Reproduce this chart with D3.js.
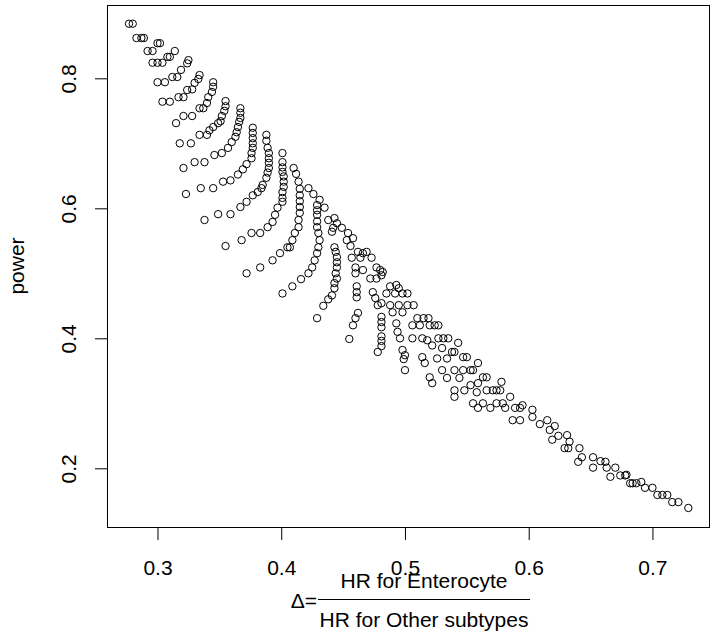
<!DOCTYPE html>
<html>
<head>
<meta charset="utf-8">
<script src="https://cdn.jsdelivr.net/npm/d3@7"></script>
<style>
  body { margin: 0; background: #fff; }
  svg { display: block; font-family: "Liberation Sans", Arial, sans-serif; }
</style>
</head>
<body>
<svg id="chart"></svg>
<script>
const width = 712, height = 639;

// [delta, power] pairs (upper left to lower right)
const arc00 = [[0.277,0.884],[0.280,0.884]];
const arc01 = [[0.283,0.862],[0.287,0.862],[0.289,0.862]];
const arc02 = [[0.292,0.842],[0.296,0.842],[0.300,0.854],[0.302,0.854]];
const arc03 = [[0.296,0.824],[0.300,0.824],[0.304,0.824],[0.308,0.833],[0.310,0.833],[0.314,0.842]];
const arc04 = [[0.300,0.794],[0.306,0.794],[0.312,0.802],[0.316,0.802],[0.319,0.813],[0.324,0.823],[0.325,0.828]];
const arc05 = [[0.304,0.764],[0.310,0.764],[0.317,0.771],[0.321,0.771],[0.324,0.782],[0.328,0.783],[0.330,0.793],[0.333,0.799],[0.334,0.805]];
const arc06 = [[0.315,0.731],[0.321,0.742],[0.328,0.742],[0.334,0.754],[0.337,0.754],[0.340,0.762],[0.341,0.771],[0.344,0.779],[0.345,0.787],[0.345,0.794]];
const arc07 = [[0.318,0.700],[0.327,0.700],[0.334,0.713],[0.340,0.713],[0.342,0.720],[0.345,0.725],[0.349,0.731],[0.351,0.734],[0.352,0.742],[0.354,0.750],[0.355,0.757],[0.355,0.765]];
const arc08 = [[0.321,0.662],[0.330,0.671],[0.338,0.671],[0.346,0.682],[0.352,0.685],[0.357,0.693],[0.360,0.702],[0.363,0.710],[0.364,0.717],[0.365,0.725],[0.366,0.733],[0.367,0.739],[0.367,0.747],[0.367,0.754]];
const arc09 = [[0.323,0.622],[0.335,0.631],[0.345,0.631],[0.353,0.641],[0.359,0.643],[0.365,0.652],[0.369,0.660],[0.372,0.668],[0.376,0.677],[0.376,0.685],[0.377,0.693],[0.377,0.700],[0.377,0.708],[0.377,0.716],[0.377,0.724]];
const arc10 = [[0.338,0.582],[0.349,0.591],[0.359,0.591],[0.367,0.602],[0.372,0.610],[0.377,0.620],[0.381,0.625],[0.384,0.631],[0.385,0.636],[0.388,0.647],[0.389,0.655],[0.390,0.662],[0.390,0.670],[0.390,0.677],[0.390,0.685],[0.389,0.693],[0.388,0.704],[0.388,0.713]];
const arc11 = [[0.355,0.542],[0.368,0.551],[0.376,0.562],[0.383,0.562],[0.389,0.571],[0.393,0.579],[0.395,0.590],[0.397,0.601],[0.401,0.610],[0.401,0.616],[0.401,0.625],[0.402,0.633],[0.402,0.641],[0.402,0.649],[0.401,0.656],[0.401,0.663],[0.401,0.671],[0.401,0.685]];
const arc12 = [[0.372,0.500],[0.383,0.509],[0.393,0.520],[0.399,0.531],[0.405,0.540],[0.407,0.540],[0.409,0.551],[0.411,0.562],[0.414,0.571],[0.414,0.582],[0.415,0.593],[0.415,0.602],[0.415,0.611],[0.415,0.620],[0.415,0.630],[0.414,0.641],[0.412,0.653],[0.410,0.662]];
const arc13 = [[0.401,0.469],[0.409,0.480],[0.416,0.491],[0.422,0.500],[0.425,0.509],[0.427,0.520],[0.429,0.531],[0.430,0.540],[0.431,0.551],[0.430,0.562],[0.429,0.571],[0.429,0.580],[0.429,0.590],[0.429,0.597],[0.429,0.605],[0.426,0.622],[0.422,0.631]];
const arc14 = [[0.429,0.431],[0.434,0.450],[0.438,0.460],[0.441,0.466],[0.443,0.477],[0.443,0.485],[0.445,0.492],[0.444,0.500],[0.445,0.509],[0.445,0.517],[0.445,0.525],[0.444,0.533],[0.443,0.540],[0.441,0.564],[0.442,0.570],[0.449,0.570],[0.445,0.577],[0.443,0.585],[0.438,0.582],[0.435,0.601],[0.431,0.613]];
const arc15 = [[0.455,0.399],[0.458,0.420],[0.460,0.431],[0.462,0.439],[0.461,0.463],[0.461,0.471],[0.461,0.480],[0.460,0.500],[0.460,0.509],[0.457,0.524],[0.456,0.542],[0.453,0.551],[0.454,0.562],[0.458,0.554]];
const edgeA = [[0.462,0.533],[0.466,0.531],[0.469,0.533],[0.473,0.524],[0.464,0.524],[0.466,0.505],[0.472,0.492],[0.477,0.509],[0.480,0.505],[0.481,0.497],[0.477,0.492],[0.482,0.502]];
const arc16 = [[0.478,0.379],[0.481,0.388],[0.481,0.396],[0.481,0.403],[0.481,0.417],[0.481,0.425],[0.481,0.433],[0.478,0.451],[0.476,0.462],[0.474,0.471]];
const edgeB = [[0.488,0.480],[0.493,0.482],[0.485,0.469],[0.492,0.469],[0.498,0.469],[0.502,0.469],[0.481,0.454],[0.488,0.451],[0.495,0.451],[0.502,0.451],[0.507,0.451],[0.490,0.440],[0.498,0.440],[0.495,0.477]];
const arc17 = [[0.500,0.351],[0.499,0.368],[0.500,0.374],[0.498,0.382],[0.496,0.400],[0.494,0.410],[0.493,0.423]];
const bandC = [[0.510,0.431],[0.515,0.431],[0.519,0.431],[0.506,0.420],[0.512,0.420],[0.520,0.420],[0.524,0.420],[0.527,0.420],
  [0.506,0.400],[0.514,0.400],[0.518,0.397],[0.522,0.389],[0.527,0.400],[0.531,0.400],[0.535,0.400],
  [0.514,0.371],[0.516,0.362],[0.520,0.340],[0.522,0.331],[0.530,0.385],[0.526,0.369],[0.534,0.369],[0.530,0.351],[0.534,0.339]];
const bandD = [[0.543,0.393],[0.538,0.379],[0.540,0.379],[0.547,0.371],[0.550,0.371],[0.559,0.362],[0.540,0.351],[0.547,0.351],
  [0.553,0.351],[0.555,0.351],[0.544,0.339],[0.563,0.340],[0.566,0.340],[0.540,0.320],[0.548,0.320],[0.553,0.328],
  [0.558,0.317],[0.559,0.331],[0.566,0.320],[0.571,0.320],[0.574,0.320],[0.577,0.320],[0.578,0.333],[0.540,0.310],
  [0.555,0.300],[0.559,0.293],[0.563,0.300],[0.569,0.293],[0.574,0.300],[0.579,0.300],[0.581,0.293],[0.585,0.310],
  [0.589,0.293],[0.593,0.293],[0.595,0.297],[0.603,0.290],[0.587,0.274],[0.593,0.274],[0.603,0.279],[0.615,0.274]];
const tail = [[0.609,0.268],[0.617,0.259],[0.621,0.265],[0.624,0.250],[0.619,0.244],
  [0.631,0.251],[0.633,0.241],[0.629,0.231],[0.632,0.231],[0.641,0.231],[0.643,0.217],[0.640,0.210],[0.652,0.217],
  [0.652,0.201],[0.658,0.211],[0.662,0.210],[0.663,0.201],[0.670,0.201],[0.666,0.187],[0.674,0.189],[0.678,0.189],
  [0.679,0.190],[0.682,0.177],[0.684,0.177],[0.687,0.177],[0.691,0.179],[0.694,0.170],[0.700,0.170],[0.704,0.159],
  [0.708,0.159],[0.712,0.159],[0.716,0.148],[0.721,0.148],[0.729,0.139]];

const xTicks = [0.3, 0.4, 0.5, 0.6, 0.7];
const yTicks = [0.2, 0.4, 0.6, 0.8];

const points = [].concat(arc00, arc01, arc02, arc03, arc04, arc05, arc06, arc07, arc08, arc09,
  arc10, arc11, arc12, arc13, arc14, arc15, edgeA, arc16, edgeB, arc17, bandC, bandD, tail);

const svg = d3.select("#chart")
  .attr("width", width)
  .attr("height", height);

svg.append("rect").attr("width", width).attr("height", height).attr("fill", "#fff");

// plot region (R style, axis limits padded around the data)
const plotL = 107, plotR = 709, plotT = 5, plotB = 527;

const x = d3.scaleLinear().domain([0.2592, 0.7457]).range([plotL, plotR]);
const y = d3.scaleLinear().domain([0.1097, 0.9128]).range([plotB, plotT]);

// x axis
const xAxis = svg.append("g")
  .attr("transform", `translate(0,${plotB})`)
  .call(d3.axisBottom(x).tickValues(xTicks).tickSize(13).tickPadding(20.5).tickFormat(d3.format(".1f")));
xAxis.select(".domain").remove();
xAxis.selectAll("text").attr("font-size", 21).attr("font-family", "Liberation Sans, Arial, sans-serif").attr("fill", "#000");

// y axis, labels parallel to the axis
const yAxis = svg.append("g")
  .attr("transform", `translate(${plotL},0)`)
  .call(d3.axisLeft(y).tickValues(yTicks).tickSize(12).tickFormat(d3.format(".1f")));
yAxis.select(".domain").remove();
yAxis.selectAll("text")
  .attr("x", 0).attr("dy", 0)
  .attr("text-anchor", "middle")
  .attr("transform", "translate(-31,0) rotate(-90)")
  .attr("font-size", 21).attr("font-family", "Liberation Sans, Arial, sans-serif").attr("fill", "#000");

// box
svg.append("rect")
  .attr("x", plotL + 0.5).attr("y", plotT + 0.5)
  .attr("width", plotR - plotL).attr("height", plotB - plotT)
  .attr("fill", "none").attr("stroke", "#000").attr("stroke-width", 1);

// points
svg.append("g").selectAll("circle")
  .data(points)
  .enter().append("circle")
  .attr("cx", d => x(d[0]))
  .attr("cy", d => y(d[1]))
  .attr("r", 3.7)
  .attr("fill", "none")
  .attr("stroke", "#000")
  .attr("stroke-width", 1);

// y title
svg.append("text")
  .attr("transform", `translate(24,${(plotT + plotB) / 2}) rotate(-90)`)
  .attr("text-anchor", "middle")
  .attr("font-size", 21)
  .text("power");

// x title: delta = fraction
const fx = 424;
svg.append("text")
  .attr("x", fx).attr("y", 588)
  .attr("text-anchor", "middle").attr("font-size", 21)
  .text("HR for Enterocyte");
svg.append("line")
  .attr("x1", 318).attr("x2", 530)
  .attr("y1", 599.5).attr("y2", 599.5)
  .attr("stroke", "#000").attr("stroke-width", 1);
svg.append("text")
  .attr("x", fx).attr("y", 627)
  .attr("text-anchor", "middle").attr("font-size", 21)
  .text("HR for Other subtypes");
svg.append("text")
  .attr("x", 317).attr("y", 608)
  .attr("text-anchor", "end").attr("font-size", 21)
  .text("Δ=");
</script>
</body>
</html>
